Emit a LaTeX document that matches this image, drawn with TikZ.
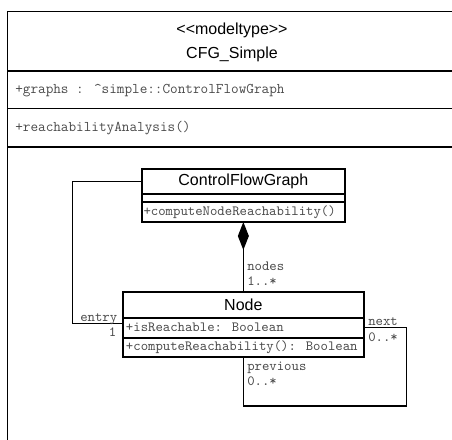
\documentclass[tikz,border=0pt]{standalone}
\usepackage{fontspec}
\setmainfont{Liberation Sans}
\usetikzlibrary{arrows.meta}
\newdimen\upx \upx=0.75pt
\definecolor{monogray}{HTML}{4A4A4A}
\tikzset{
  frameline/.style={line width=1.5\upx, draw=black},
  clsbox/.style={draw=black, line width=2\upx, inner sep=0pt, outer sep=0pt, anchor=north west, font=\fontsize{12pt}{14pt}\selectfont},
  monotxt/.style={inner sep=0pt, text=monogray, font=\ttfamily\fontsize{10.56pt}{12pt}\selectfont},
  bigmono/.style={inner sep=0pt, text=monogray, font=\ttfamily\fontsize{11.1pt}{13pt}\selectfont},
  titletxt/.style={inner sep=0pt, font=\fontsize{12pt}{14pt}\selectfont},
  conn/.style={draw=black, line width=1.5\upx}
}
\begin{document}
\begin{tikzpicture}[x=0.75pt, y=-0.75pt]
\useasboundingbox (0,0) rectangle (452,439);
\clip (0,0) rectangle (452,439);
% outer frame
\draw[line width=1\upx] (7.5,11) -- (470,11);
\draw[frameline] (7.5,11) -- (7.5,460);
\draw[frameline] (7.5,71) -- (470,71);
\draw[frameline] (7.5,108.5) -- (470,108.5);
\draw[frameline] (7.5,147) -- (470,147);
\node[titletxt, anchor=base] (stereo) at (232,34) {<{}<modeltype>{}>};
\node[titletxt, anchor=base] (pkgname) at (232,58.3) {CFG\_Simple};
\node[bigmono, anchor=base west] (graphsattr) at (15,93.3) {+graphs : \textasciicircum simple::ControlFlowGraph};
\node[bigmono, anchor=base west] (reachop) at (15,131) {+reachabilityAnalysis()};

% ControlFlowGraph class
\node[clsbox, minimum width=203.3\upx, minimum height=25.3\upx] (cfgname) at (141.7,169) {ControlFlowGraph};
\node[clsbox, minimum width=203.3\upx, minimum height=8\upx] (cfgattr) at (141.7,194.3) {};
\node[clsbox, minimum width=203.3\upx, minimum height=19.7\upx] (cfgops) at (141.7,202.3) {};
\node[monotxt, anchor=west] (cfgopstxt) at ([xshift=1.6\upx]cfgops.west) {+computeNodeReachability()};

% Node class
\node[clsbox, minimum width=241.3\upx, minimum height=26\upx] (nodename) at (122.7,291.7) {Node};
\node[clsbox, minimum width=241.3\upx, minimum height=20\upx] (nodeattr) at (122.7,317.7) {};
\node[clsbox, minimum width=241.3\upx, minimum height=19.6\upx] (nodeops) at (122.7,337.7) {};
\node[monotxt, anchor=west] (nodeattrtxt) at ([xshift=3\upx]nodeattr.west) {+isReachable: Boolean};
\node[monotxt, anchor=west] (nodeopstxt) at ([xshift=3\upx]nodeops.west) {+computeReachability(): Boolean};

% composition
\draw[conn, {Diamond[length=21pt, width=8.25pt]}-] (cfgops.south) -- (nodename.north);
\node[monotxt, anchor=base west] (lnodes) at (247,270.7) {nodes};
\node[monotxt, anchor=base west] (lnodesm) at (247,285) {1..*};

% entry association
\coordinate (lc) at (72.7,323.3);
\draw[conn] (cfgname.west) -| (lc) -- (lc -| nodeattr.west);
\node[monotxt, anchor=base east] (lentry) at (117.5,321) {entry};
\node[monotxt, anchor=base east] (lentrym) at (116.5,336.7) {1};

% self association
\coordinate (sl) at (406.7,406);
\draw[conn] (nodeattr.east) -| (sl) -| (nodeops.south);
\node[monotxt, anchor=base west] (lnext) at (368,325) {next};
\node[monotxt, anchor=base west] (lnextm) at (368,341) {0..*};
\node[monotxt, anchor=base west] (lprev) at (247,370) {previous};
\node[monotxt, anchor=base west] (lprevm) at (247,385) {0..*};
\end{tikzpicture}
\end{document}
